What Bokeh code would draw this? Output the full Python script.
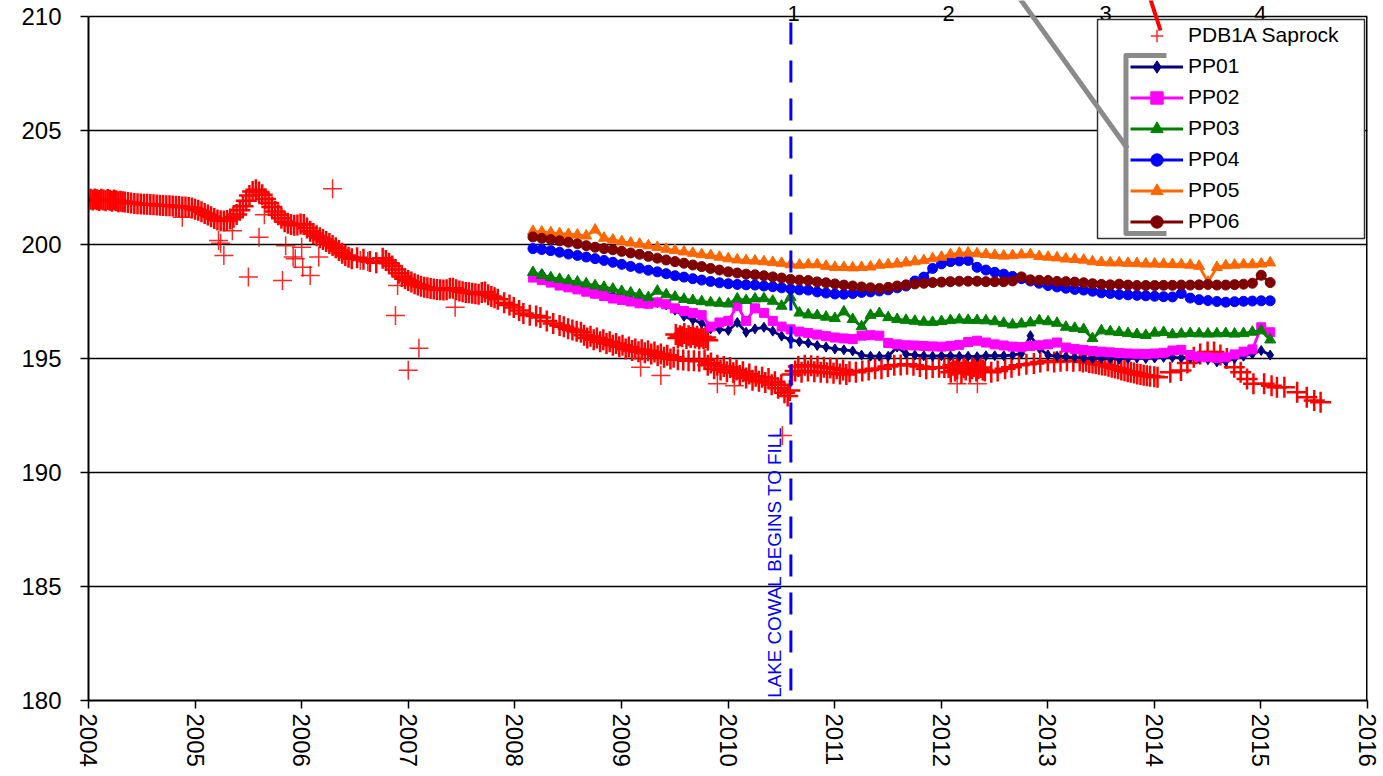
import numpy as np
from bokeh.plotting import figure
from bokeh.models import FixedTicker, Legend, LegendItem, Range1d
from bokeh.core.properties import value
from bokeh.embed import file_html
from bokeh.resources import INLINE

# ---------------- data ----------------
YEAR_TICKS = list(range(2004, 2017))
LEVEL_TICKS = [180, 185, 190, 195, 200, 205, 210]

# PDB1A Saprock logger readings (decimal year, level)
PDB1A_READINGS = [
    (2004.02, 201.98), (2004.04, 201.95), (2004.06, 202.00), (2004.08, 201.96), (2004.10, 201.93),
    (2004.12, 201.98), (2004.14, 201.95), (2004.16, 201.92), (2004.18, 201.97), (2004.20, 201.94),
    (2004.22, 201.90), (2004.24, 201.95), (2004.26, 201.92), (2004.28, 201.88), (2004.30, 201.90),
    (2004.32, 201.87),
    (2004.34, 201.86), (2004.37, 201.84), (2004.40, 201.82), (2004.43, 201.80), (2004.46, 201.79),
    (2004.49, 201.78), (2004.52, 201.77), (2004.55, 201.76), (2004.58, 201.75), (2004.61, 201.74),
    (2004.64, 201.73), (2004.67, 201.72), (2004.70, 201.71), (2004.73, 201.70), (2004.76, 201.70),
    (2004.79, 201.69), (2004.82, 201.68), (2004.85, 201.67), (2004.88, 201.65), (2004.91, 201.64),
    (2004.94, 201.62), (2004.97, 201.60), (2005.00, 201.55), (2005.03, 201.50), (2005.06, 201.44),
    (2005.09, 201.36), (2005.12, 201.29), (2005.15, 201.22), (2005.18, 201.14), (2005.21, 201.07),
    (2005.24, 201.04), (2005.27, 201.03), (2005.30, 201.05), (2005.33, 201.12), (2005.36, 201.20),
    (2005.39, 201.32), (2005.42, 201.50), (2005.45, 201.68), (2005.48, 201.92), (2005.51, 202.15),
    (2005.54, 202.32), (2005.57, 202.40), (2005.60, 202.30), (2005.63, 202.18), (2005.66, 202.00),
    (2005.69, 201.82), (2005.72, 201.64), (2005.75, 201.45), (2005.78, 201.30), (2005.81, 201.15),
    (2005.84, 201.00), (2005.87, 200.93), (2005.90, 200.88), (2005.93, 200.84), (2005.96, 200.86),
    (2005.99, 200.90), (2006.02, 200.88), (2006.05, 200.72), (2006.08, 200.58), (2006.11, 200.48),
    (2006.14, 200.38), (2006.17, 200.30), (2006.20, 200.22), (2006.23, 200.13), (2006.26, 200.04),
    (2006.29, 199.96), (2006.32, 199.86), (2006.35, 199.74), (2006.38, 199.62), (2006.41, 199.52),
    (2006.44, 199.44), (2006.47, 199.37),
    (2006.52, 199.42), (2006.58, 199.35), (2006.64, 199.25), (2006.70, 199.20),
    (2006.76, 199.40), (2006.79, 199.30), (2006.82, 199.18), (2006.85, 199.06), (2006.88, 198.90),
    (2006.91, 198.74), (2006.94, 198.60), (2006.97, 198.50), (2007.00, 198.42), (2007.03, 198.35),
    (2007.06, 198.28), (2007.09, 198.22), (2007.12, 198.17), (2007.15, 198.13), (2007.18, 198.10),
    (2007.21, 198.07), (2007.24, 198.05), (2007.27, 198.03), (2007.30, 198.02), (2007.33, 198.00),
    (2007.36, 198.02), (2007.39, 198.08), (2007.42, 198.08), (2007.45, 198.02), (2007.48, 197.96),
    (2007.51, 197.93), (2007.54, 197.90), (2007.57, 197.88), (2007.60, 197.86), (2007.63, 197.84),
    (2007.66, 197.82), (2007.69, 197.90), (2007.72, 197.92), (2007.75, 197.80), (2007.78, 197.72),
    (2007.81, 197.66), (2007.84, 197.60),
    (2007.90, 197.45), (2007.95, 197.35), (2007.99, 197.24), (2008.04, 197.10), (2008.08, 196.97),
    (2008.14, 196.90), (2008.20, 196.86), (2008.24, 196.80), (2008.30, 196.65), (2008.36, 196.54),
    (2008.42, 196.45), (2008.46, 196.39), (2008.50, 196.30), (2008.54, 196.25), (2008.58, 196.20),
    (2008.62, 196.15),
    (2008.65, 196.02), (2008.68, 195.90), (2008.71, 195.98), (2008.74, 195.82), (2008.77, 195.90),
    (2008.80, 195.74), (2008.83, 195.82), (2008.86, 195.66), (2008.89, 195.74), (2008.92, 195.58),
    (2008.95, 195.66), (2008.98, 195.52), (2009.01, 195.58), (2009.04, 195.42), (2009.07, 195.50),
    (2009.10, 195.35), (2009.13, 195.42), (2009.16, 195.30), (2009.19, 195.38), (2009.22, 195.25),
    (2009.25, 195.34), (2009.28, 195.20), (2009.31, 195.28), (2009.34, 195.12), (2009.37, 195.20),
    (2009.40, 195.06), (2009.43, 195.14), (2009.46, 194.98), (2009.49, 195.05),
    (2009.53, 194.95), (2009.58, 194.93), (2009.63, 194.90), (2009.68, 194.90), (2009.73, 194.88),
    (2009.51, 196.05), (2009.53, 195.90), (2009.55, 196.00), (2009.57, 195.95), (2009.59, 196.10),
    (2009.61, 195.88), (2009.63, 196.00), (2009.65, 195.92), (2009.67, 196.05), (2009.69, 195.90),
    (2009.71, 195.98), (2009.73, 195.85), (2009.75, 195.95), (2009.77, 195.88), (2009.79, 195.92),
    (2009.81, 195.80),
    (2009.78, 194.95), (2009.81, 194.70), (2009.84, 194.80), (2009.87, 194.55), (2009.90, 194.70),
    (2009.93, 194.50), (2009.96, 194.65), (2009.99, 194.42), (2010.02, 194.60), (2010.05, 194.38),
    (2010.08, 194.50), (2010.11, 194.25), (2010.14, 194.42), (2010.17, 194.15), (2010.20, 194.32),
    (2010.23, 194.05), (2010.26, 194.22), (2010.29, 194.00), (2010.32, 194.18), (2010.35, 193.95),
    (2010.38, 194.12), (2010.41, 193.85), (2010.44, 193.98), (2010.47, 193.70), (2010.50, 193.85),
    (2010.53, 193.50), (2010.56, 193.35), (2010.58, 193.60),
    (2010.60, 194.30), (2010.63, 194.45), (2010.66, 194.65), (2010.69, 194.40), (2010.72, 194.70),
    (2010.75, 194.45), (2010.78, 194.68), (2010.81, 194.42), (2010.84, 194.66), (2010.87, 194.40),
    (2010.90, 194.62), (2010.93, 194.38), (2010.96, 194.58), (2010.99, 194.35), (2011.02, 194.55),
    (2011.05, 194.32), (2011.08, 194.50), (2011.11, 194.30), (2011.14, 194.42),
    (2011.20, 194.40), (2011.26, 194.45), (2011.32, 194.50), (2011.38, 194.55), (2011.44, 194.55),
    (2011.50, 194.65), (2011.56, 194.70), (2011.62, 194.72), (2011.68, 194.75), (2011.74, 194.70),
    (2011.80, 194.65), (2011.86, 194.55), (2011.92, 194.60), (2011.98, 194.62), (2012.03, 194.60),
    (2012.07, 194.60), (2012.09, 194.40), (2012.11, 194.70), (2012.13, 194.45), (2012.15, 194.55),
    (2012.17, 194.80), (2012.19, 194.35), (2012.21, 194.60), (2012.23, 194.50), (2012.25, 194.70),
    (2012.27, 194.40), (2012.29, 194.55), (2012.31, 194.65), (2012.33, 194.45), (2012.35, 194.55),
    (2012.37, 194.60), (2012.39, 194.50), (2012.41, 194.45),
    (2012.47, 194.40), (2012.53, 194.45), (2012.60, 194.55), (2012.66, 194.62), (2012.73, 194.70),
    (2012.80, 194.75), (2012.87, 194.78), (2012.93, 194.85), (2013.00, 194.90), (2013.06, 194.85),
    (2013.12, 194.88), (2013.18, 194.90), (2013.24, 194.88),
    (2013.30, 194.90), (2013.33, 194.85), (2013.36, 194.88), (2013.39, 194.82), (2013.42, 194.80),
    (2013.45, 194.78), (2013.48, 194.75), (2013.51, 194.72), (2013.54, 194.70), (2013.57, 194.66),
    (2013.60, 194.62), (2013.63, 194.58), (2013.66, 194.55), (2013.69, 194.50), (2013.72, 194.46),
    (2013.75, 194.42), (2013.78, 194.40), (2013.81, 194.36), (2013.84, 194.32), (2013.87, 194.30),
    (2013.90, 194.26), (2013.93, 194.24), (2013.96, 194.22), (2014.00, 194.20), (2014.03, 194.18),
    (2014.15, 194.40), (2014.25, 194.47), (2014.31, 194.80), (2014.37, 195.06), (2014.43, 195.20),
    (2014.50, 195.28), (2014.56, 195.28), (2014.62, 195.15), (2014.68, 195.00), (2014.75, 194.62),
    (2014.81, 194.40), (2014.87, 194.10), (2014.93, 193.89), (2015.03, 193.89), (2015.10, 193.80),
    (2015.15, 193.74), (2015.22, 193.74), (2015.34, 193.52), (2015.43, 193.30), (2015.50, 193.16),
    (2015.56, 193.08),
]
PDB1A_OUTLIERS = [
    (2004.88, 201.20), (2005.22, 200.18), (2005.24, 200.05), (2005.27, 199.52), (2005.35, 200.60),
    (2005.50, 198.57), (2005.60, 200.32), (2005.65, 201.30), (2005.82, 198.42), (2005.85, 199.95),
    (2005.92, 199.45), (2005.94, 199.37), (2006.01, 199.00), (2006.00, 199.88), (2006.08, 198.64),
    (2006.16, 199.45), (2006.29, 202.44), (2006.55, 199.30), (2006.62, 199.25), (2006.90, 198.20),
    (2006.88, 196.89), (2007.00, 194.48), (2007.10, 195.45), (2007.44, 197.25), (2009.18, 194.62),
    (2009.37, 194.25), (2009.90, 193.89), (2010.06, 193.80), (2010.51, 191.62), (2012.15, 193.89),
    (2012.34, 193.89),
]

# monthly piezometer readings, Mar 2008 .. Feb 2015
PP_DATES = [round(2008.17 + m / 12, 3) for m in range(84)]

PP01 = [198.60, 198.72, 198.50, 198.38, 198.28, 198.18, 198.08, 197.98, 197.88, 197.78, 197.70, 197.62,
        197.58, 197.52, 197.45, 197.35, 197.12, 196.85, 196.70, 196.55, 196.30, 196.28, 196.23, 196.58,
        196.15, 196.30, 196.37, 196.20, 195.98, 195.82, 195.74, 195.68,
        195.57, 195.50, 195.42, 195.38, 195.33, 195.15, 195.10, 195.10, 195.10, 195.50, 195.20, 195.15,
        195.12, 195.10, 195.12, 195.12, 195.10, 195.10, 195.08, 195.12, 195.12, 195.12, 195.15, 195.22,
        196.00, 195.45, 195.15, 195.10, 195.08, 195.05, 195.02, 195.00,
        195.00, 195.00, 194.98, 195.00, 195.02, 195.00, 195.02, 195.05, 195.05, 195.03, 195.02, 195.00,
        194.95, 194.85, 194.88, 195.00, 195.10, 195.20, 195.35, 195.15]
PP02 = [198.55, 198.44, 198.33, 198.20, 198.12, 198.03, 197.93, 197.84, 197.74, 197.63, 197.57, 197.50,
        197.42, 197.40, 197.46, 197.38, 197.20, 197.08, 197.00, 196.90, 196.40, 196.58, 196.65, 197.30,
        196.65, 197.20, 197.00, 196.65, 196.40, 196.28, 196.18, 196.12,
        196.05, 195.98, 195.92, 195.88, 195.85, 196.00, 196.02, 196.00, 195.68, 195.62, 195.58, 195.57,
        195.55, 195.53, 195.52, 195.55, 195.60, 195.72, 195.78, 195.70, 195.62, 195.57, 195.52, 195.50,
        195.55, 195.58, 195.62, 195.70, 195.48, 195.42, 195.38, 195.33,
        195.30, 195.27, 195.24, 195.22, 195.21, 195.20, 195.22, 195.25, 195.35, 195.38, 195.15, 195.08,
        195.05, 195.03, 195.05, 195.18, 195.30, 195.40, 196.37, 196.15]
PP03 = [198.78, 198.65, 198.55, 198.48, 198.42, 198.36, 198.28, 198.20, 198.13, 198.05, 197.95, 197.88,
        197.80, 197.68, 197.96, 197.80, 197.70, 197.60, 197.55, 197.50, 197.45, 197.43, 197.40, 197.62,
        197.55, 197.62, 197.63, 197.52, 197.30, 197.69, 197.00, 196.92,
        196.89, 196.82, 196.76, 197.05, 196.72, 196.40, 196.90, 196.98, 196.80, 196.72, 196.68, 196.64,
        196.60, 196.59, 196.63, 196.67, 196.70, 196.68, 196.67, 196.66, 196.62, 196.55, 196.48, 196.52,
        196.57, 196.66, 196.62, 196.55, 196.38, 196.33, 196.28, 195.88,
        196.22, 196.18, 196.15, 196.10, 196.06, 196.02, 196.12, 196.15, 196.05, 196.08, 196.10, 196.09,
        196.08, 196.09, 196.10, 196.08, 196.10, 196.16, 196.22, 195.82]
PP04 = [199.82, 199.78, 199.73, 199.66, 199.58, 199.52, 199.45, 199.38, 199.30, 199.22, 199.13, 199.04,
        198.96, 198.87, 198.80, 198.72, 198.63, 198.57, 198.50, 198.44, 198.38, 198.32, 198.28, 198.25,
        198.23, 198.22, 198.18, 198.15, 198.10, 198.05, 198.01, 198.00,
        197.92, 197.87, 197.83, 197.82, 197.85, 197.90, 197.92, 197.96, 198.01, 198.10, 198.18, 198.40,
        198.57, 198.95, 199.15, 199.25, 199.28, 199.30, 199.00, 198.88, 198.78, 198.70, 198.60, 198.50,
        198.40, 198.30, 198.20, 198.14, 198.08, 198.03, 198.00, 197.95,
        197.88, 197.85, 197.81, 197.79, 197.77, 197.75, 197.73, 197.71, 197.70, 197.85, 197.65, 197.58,
        197.54, 197.50, 197.47, 197.49, 197.51, 197.52, 197.53, 197.53]
PP05 = [200.58, 200.55, 200.52, 200.48, 200.45, 200.42, 200.38, 200.64, 200.28, 200.20, 200.13, 200.07,
        200.02, 199.95, 199.88, 199.80, 199.74, 199.68, 199.62, 199.56, 199.52, 199.45, 199.38, 199.33,
        199.30, 199.28, 199.25, 199.22, 199.18, 199.12, 199.10, 199.12,
        199.12, 199.05, 199.00, 199.00, 198.98, 199.00, 199.02, 199.10, 199.12, 199.15, 199.20, 199.25,
        199.30, 199.38, 199.45, 199.56, 199.62, 199.63, 199.60, 199.57, 199.53, 199.50, 199.52, 199.55,
        199.56, 199.48, 199.45, 199.42, 199.37, 199.35, 199.32, 199.25,
        199.22, 199.20, 199.20, 199.18, 199.17, 199.15, 199.15, 199.14, 199.13, 199.12, 199.10, 199.05,
        198.35, 199.00, 199.08, 199.10, 199.12, 199.12, 199.15, 199.20]
PP06 = [200.33, 200.27, 200.22, 200.16, 200.10, 200.03, 199.95, 199.88, 199.82, 199.77, 199.70, 199.63,
        199.57, 199.48, 199.40, 199.32, 199.25, 199.18, 199.10, 199.03, 198.95, 198.88, 198.80, 198.75,
        198.70, 198.67, 198.63, 198.58, 198.53, 198.47, 198.44, 198.42,
        198.36, 198.32, 198.27, 198.22, 198.18, 198.14, 198.10, 198.07, 198.12, 198.18, 198.23, 198.27,
        198.30, 198.33, 198.35, 198.37, 198.39, 198.39, 198.39, 198.37, 198.37, 198.37, 198.40, 198.58,
        198.45, 198.43, 198.42, 198.38, 198.37, 198.35, 198.32, 198.28,
        198.25, 198.23, 198.26, 198.22, 198.20, 198.20, 198.20, 198.21, 198.21, 198.22, 198.22, 198.23,
        198.25, 198.22, 198.22, 198.24, 198.26, 198.30, 198.65, 198.33]

SERIES_NAMES = ["PP01", "PP02", "PP03", "PP04", "PP05", "PP06"]
SERIES_COLORS = ["#000080", "#ff00ff", "#008000", "#0000ff", "#ff6600", "#800000"]
SERIES_MARKERS = ["diamond", "square", "triangle", "circle", "triangle", "circle"]
SERIES_SIZES = [10, 9, 11, 10, 11, 10]

FILL_DATE = 2010.59
FILL_LABEL = "LAKE COWAL BEGINS TO FILL"
FILL_LABEL_POS = (2010.437, 180.12)
STAGE_DATES = [2010.615, 2012.069, 2013.542, 2014.996]
STAGE_LABELS = ["1", "2", "3", "4"]

# ---------------- figure ----------------
W, H = 1383, 776
Y_TOP = 180 + 30 * 700 / 684
p = figure(width=W, height=H, output_backend="svg", toolbar_location=None, tools="",
           title=None, x_range=Range1d(2004, 2016), y_range=Range1d(180, Y_TOP),
           min_border_left=88, min_border_right=16, min_border_top=0, min_border_bottom=76)
p.outline_line_color = None
p.background_fill_color = "white"
p.border_fill_color = "white"

p.xgrid.visible = False
p.ygrid.ticker = FixedTicker(ticks=LEVEL_TICKS)
p.ygrid.grid_line_color = "black"
p.ygrid.grid_line_width = 1.4

for ax in (p.xaxis[0], p.yaxis[0]):
    ax.major_tick_out = 8
    ax.major_tick_in = 0
    ax.minor_tick_line_color = None
    ax.major_tick_line_color = "black"
    ax.major_tick_line_width = 1.5
    ax.axis_line_color = "black"
    ax.axis_line_width = 2
    ax.major_label_text_font = "Liberation Sans"
    ax.major_label_text_font_size = "24px"
    ax.major_label_text_color = "black"

p.yaxis.ticker = FixedTicker(ticks=LEVEL_TICKS)
p.yaxis.bounds = (180, 210)
p.yaxis.major_label_standoff = 19
p.xaxis.ticker = FixedTicker(ticks=YEAR_TICKS)
p.xaxis.major_label_orientation = "vertical"
p.xaxis.major_label_standoff = 5

# right border of the plot area
p.segment(x0=[2016], y0=[180], x1=[2016], y1=[210], line_color="black", line_width=3)

# data
pdb_dense = p.scatter([r[0] for r in PDB1A_READINGS], [r[1] for r in PDB1A_READINGS],
                      marker="cross", size=21, line_color="#ff0000", line_width=2.5)
pdb_out = p.scatter([r[0] for r in PDB1A_OUTLIERS], [r[1] for r in PDB1A_OUTLIERS],
                    marker="cross", size=19, line_color="#ff0000", line_width=1.5, line_alpha=0.85)

items = [LegendItem(label="PDB1A Saprock", renderers=[pdb_out])]
for name, vals, col, mk, sz in zip(SERIES_NAMES, [PP01, PP02, PP03, PP04, PP05, PP06],
                                   SERIES_COLORS, SERIES_MARKERS, SERIES_SIZES):
    ln = p.line(PP_DATES, vals, line_color=col, line_width=2.8)
    sc = p.scatter(PP_DATES, vals, marker=mk, size=sz, fill_color=col, line_color=col)
    items.append(LegendItem(label=name, renderers=[ln, sc]))

# lake fill marker
p.segment(x0=[FILL_DATE], y0=[210], x1=[FILL_DATE], y1=[180], line_color="#0000ff",
          line_width=3, line_dash="22 16", line_dash_offset=32)
p.text(x=[FILL_LABEL_POS[0]], y=[FILL_LABEL_POS[1]], text=[FILL_LABEL], angle=np.pi / 2,
       text_font=value("Liberation Sans"), text_font_size="18.8px", text_color="#0000ff",
       text_align="left", text_baseline="alphabetic")

# stage numbers along the top
p.text(x=STAGE_DATES, y=[210.13] * 4, text=STAGE_LABELS, text_font=value("Liberation Sans"),
       text_font_size="22px", text_color="black", text_align="center", text_baseline="alphabetic")

# legend frame
p.quad(left=[2013.467], right=[2015.972], top=[209.868], bottom=[200.263],
       fill_color="white", line_color="#333333", line_width=1.5)

# grey bracket and pointer lines
p.multi_line(xs=[[2012.744, 2013.748], [2014.114, 2013.734, 2013.734, 2014.114]],
             ys=[[210.75, 204.21], [208.29, 208.29, 200.48, 200.48]],
             line_color="#8a8a8a", line_width=5, line_join="round")
p.line([2013.964, 2014.058], [210.75, 209.386], line_color="#ff0000", line_width=4)

legend = Legend(items=items, location=(1042, 463.5), padding=0, margin=0, spacing=0,
                label_height=31, glyph_height=31, glyph_width=53, label_standoff=5,
                label_text_font="Liberation Sans", label_text_font_size="21px",
                label_text_color="black", border_line_color=None, background_fill_alpha=0)
p.add_layout(legend)

open("out.html", "w").write(file_html(p, INLINE))
